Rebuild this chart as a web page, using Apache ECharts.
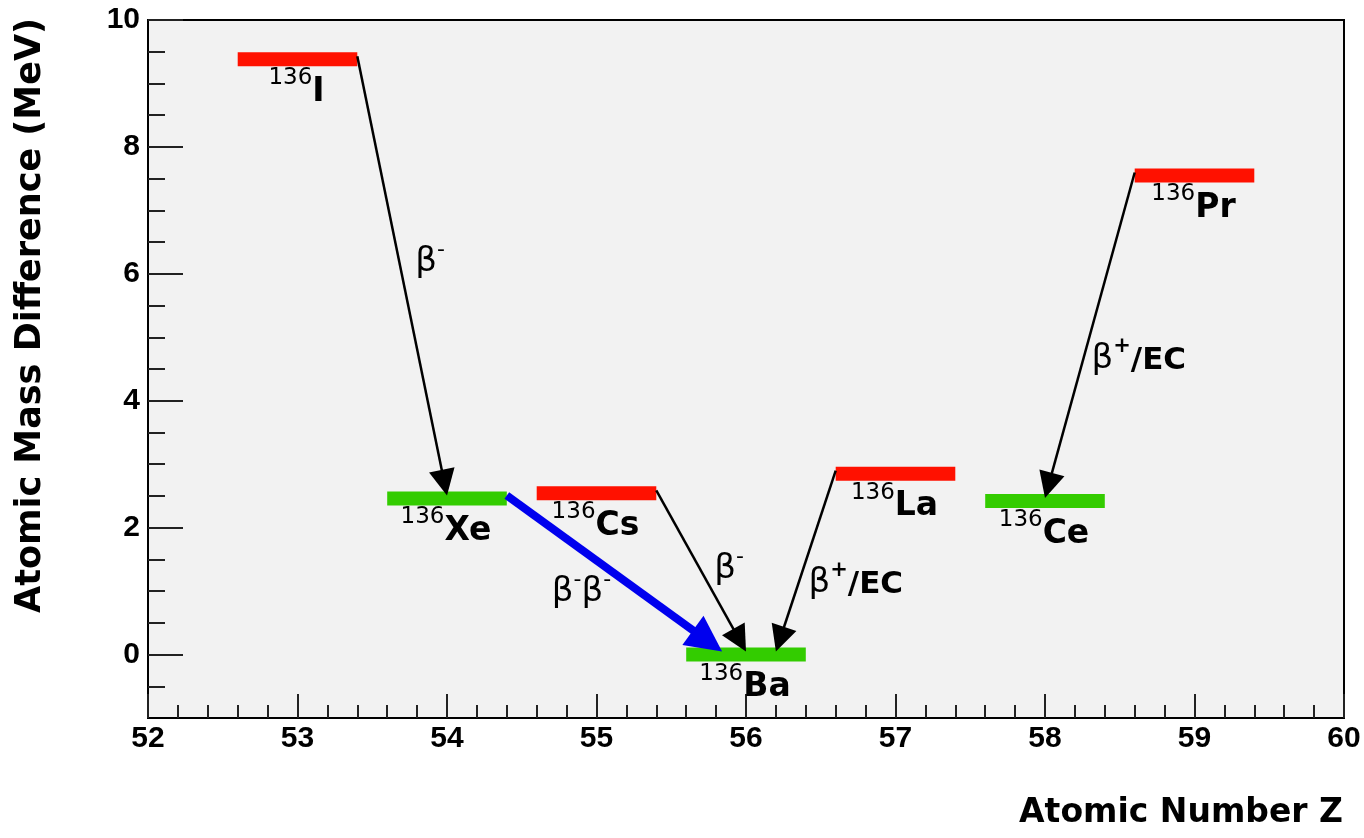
<!DOCTYPE html>
<html>
<head>
<meta charset="utf-8">
<script src="https://cdn.jsdelivr.net/npm/echarts@6/dist/echarts.min.js"></script>
<style>
html,body{margin:0;padding:0;background:#ffffff;}
#main{width:1364px;height:838px;}
</style>
</head>
<body>
<div id="main"></div>
<script>
// ---------------- DATA ----------------
const massNumber = 136;
const nuclides = ['I', 'Xe', 'Cs', 'Ba', 'La', 'Ce', 'Pr'];
const atomicNumbers = [53, 54, 55, 56, 57, 58, 59];
const massDifferences = [9.38, 2.46, 2.54, 0.0, 2.85, 2.42, 7.55]; // MeV
const nucleusKind = ['odd', 'even', 'odd', 'even', 'odd', 'even', 'odd'];

const decayFrom = ['I', 'Xe', 'Cs', 'La', 'Pr'];
const decayTo = ['Xe', 'Ba', 'Ba', 'Ba', 'Ce'];
const decayModes = ['beta-', 'doublebeta', 'beta-', 'beta+EC', 'beta+EC'];
const decayStartZ = [53.4, 54.4, 55.4, 56.6, 58.6];
const decayEndZ = [54.0, 55.84, 56.0, 56.2, 58.0];

const xTickValues = [52, 53, 54, 55, 56, 57, 58, 59, 60];
const yTickValues = [0, 2, 4, 6, 8, 10];
const yMinorTickValues = [-0.5, 0.5, 1, 1.5, 2.5, 3, 3.5, 4.5, 5, 5.5, 6.5, 7, 7.5, 8.5, 9, 9.5];

const xTitle = 'Atomic Number Z';
const yTitle = 'Atomic Mass Difference (MeV)';

// ---------------- STYLE / LAYOUT ----------------
const levelHalfWidth = 0.4;
const levelColors = { odd: '#ff1100', even: '#33cc00' };
const wideFont = '"DejaVu Sans"';
const tickFont = '"Liberation Sans", Arial, sans-serif';
const labelOffsets = [ [28, -17], [-33, 16], [28, -5], [50, 19], [49, 21] ];

const measureCtx = document.createElement('canvas').getContext('2d');
function textWidth(txt, font) { measureCtx.font = font; return measureCtx.measureText(txt).width; }

function decayLabelRich(mode) {
  if (mode === 'beta-') return '{b|β}{p|-}';
  if (mode === 'doublebeta') return '{bb|β}{pb|-}{bb|β}{pb|-}';
  return '{b|β}{q|+}{t|/EC}';
}
const richStyles = {
  b: { fontFamily: wideFont, fontSize: 34, color: '#000', lineHeight: 40, verticalAlign: 'bottom' },
  p: { fontFamily: wideFont, fontSize: 22, color: '#000', lineHeight: 22, verticalAlign: 'top' },
  q: { fontFamily: wideFont, fontSize: 21, fontWeight: 'bold', color: '#000', lineHeight: 22, verticalAlign: 'top' },
  t: { fontFamily: wideFont, fontSize: 31, fontWeight: 'bold', color: '#000', lineHeight: 40, verticalAlign: 'bottom' },
  bb: { fontFamily: wideFont, fontSize: 34, color: '#0000ee', lineHeight: 40, verticalAlign: 'bottom' },
  pb: { fontFamily: wideFont, fontSize: 22, color: '#0000ee', lineHeight: 22, verticalAlign: 'top' }
};

const idx = name => nuclides.indexOf(name);
const levelData = nuclides.map((n, i) => [atomicNumbers[i], massDifferences[i], i]);
const decayData = decayFrom.map((f, i) => [decayStartZ[i], massDifferences[idx(f)], decayEndZ[i], massDifferences[idx(decayTo[i])], i]);

function renderLevel(params, api) {
  const i = api.value(2);
  const z = api.value(0), e = api.value(1);
  const a = api.coord([z - levelHalfWidth, e]);
  const b = api.coord([z + levelHalfWidth, e]);
  const cx = (a[0] + b[0]) / 2 - 1;
  const cy = a[1];
  const supFont = '23px ' + wideFont;
  const elFont = 'bold 33px ' + wideFont;
  const supTxt = String(massNumber);
  const elTxt = nuclides[i];
  const ws = textWidth(supTxt, supFont), we = textWidth(elTxt, elFont);
  const left = cx - (ws + we) / 2;
  return {
    type: 'group',
    children: [
      { type: 'rect', shape: { x: a[0], y: cy - 7, width: b[0] - a[0], height: 14 },
        style: { fill: levelColors[nucleusKind[i]] } },
      { type: 'text', x: left, y: cy + 19,
        style: { text: supTxt, font: supFont, fill: '#000', align: 'left', verticalAlign: 'middle' } },
      { type: 'text', x: left + ws, y: cy + 33,
        style: { text: elTxt, font: elFont, fill: '#000', align: 'left', verticalAlign: 'middle' } }
    ]
  };
}

function renderDecay(params, api) {
  const i = api.value(4);
  const p0 = api.coord([api.value(0), api.value(1)]);
  const p1 = api.coord([api.value(2), api.value(3)]);
  const mode = decayModes[i];
  const isDouble = mode === 'doublebeta';
  const color = isDouble ? '#0000ee' : '#000000';
  const headLen = isDouble ? 36 : 26;
  const headHalf = isDouble ? 18 : 13;
  const lw = isDouble ? 8 : 2.5;
  const start = [p0[0], p0[1] - 3];
  const tip = [p1[0], p1[1] - 3];
  const dx = tip[0] - start[0], dy = tip[1] - start[1];
  const len = Math.sqrt(dx * dx + dy * dy);
  const ux = dx / len, uy = dy / len;
  const nx = -uy, ny = ux;
  const base = [tip[0] - ux * headLen, tip[1] - uy * headLen];
  const mid = [(start[0] + tip[0]) / 2, (start[1] + tip[1]) / 2];
  const off = labelOffsets[i];
  return {
    type: 'group',
    children: [
      { type: 'line', shape: { x1: start[0], y1: start[1], x2: base[0] + ux * 2, y2: base[1] + uy * 2 },
        style: { stroke: color, lineWidth: lw, lineCap: 'butt' } },
      { type: 'polygon', shape: { points: [tip, [base[0] + nx * headHalf, base[1] + ny * headHalf], [base[0] - nx * headHalf, base[1] - ny * headHalf]] },
        style: { fill: color } },
      { type: 'text', x: mid[0] + off[0], y: mid[1] + off[1],
        style: { text: decayLabelRich(mode), rich: richStyles, align: 'center', verticalAlign: 'middle' } }
    ]
  };
}

const chart = echarts.init(document.getElementById('main'), null, { renderer: 'canvas' });
const axisColor = '#000';
chart.setOption({
  animation: false,
  backgroundColor: '#ffffff',
  grid: { left: 148, right: 20, top: 20, bottom: 120, show: true, backgroundColor: '#f2f2f2',
          borderColor: '#000', borderWidth: 2, containLabel: false, outerBoundsMode: 'none' },
  xAxis: {
    type: 'value', min: 52, max: 60, interval: 1,
    axisLine: { show: true, onZero: false, lineStyle: { color: axisColor, width: 2 } },
    axisTick: { show: true, inside: true, length: 24, lineStyle: { color: '#222', width: 2 } },
    minorTick: { show: true, splitNumber: 5, length: 13, lineStyle: { color: '#222', width: 2 } },
    axisLabel: { color: '#000', fontFamily: tickFont, fontWeight: 'bold', fontSize: 30, margin: 6,
                 customValues: xTickValues, formatter: v => String(v) },
    splitLine: { show: false }, minorSplitLine: { show: false }
  },
  yAxis: [
    {
      type: 'value', min: -1, max: 10, position: 'left',
      axisLine: { show: true, onZero: false, lineStyle: { color: axisColor, width: 2 } },
      axisTick: { show: true, inside: true, length: 35, customValues: yTickValues, lineStyle: { color: '#222', width: 2 } },
      axisLabel: { color: '#000', fontFamily: tickFont, fontWeight: 'bold', fontSize: 30, margin: 8,
                   customValues: yTickValues, formatter: v => String(v) },
      splitLine: { show: false }
    },
    {
      type: 'value', min: -1, max: 10, position: 'left', offset: 0,
      axisLine: { show: false },
      axisTick: { show: true, inside: true, length: 17, customValues: yMinorTickValues, lineStyle: { color: '#222', width: 2 } },
      axisLabel: { show: false },
      splitLine: { show: false }
    }
  ],
  graphic: [
    { type: 'text', x: 1343, y: 813, style: { text: xTitle, font: 'bold 33px ' + wideFont, fill: '#000', align: 'right', verticalAlign: 'middle' } },
    { type: 'text', x: 31, y: 18, rotation: Math.PI / 2, style: { text: yTitle, font: 'bold 35px ' + wideFont, fill: '#000', align: 'right', verticalAlign: 'middle' } }
  ],
  series: [
    { type: 'custom', name: 'levels', coordinateSystem: 'cartesian2d', data: levelData, renderItem: renderLevel, clip: false, z: 3 },
    { type: 'custom', name: 'decays', coordinateSystem: 'cartesian2d', data: decayData, renderItem: renderDecay, clip: false, z: 4 }
  ]
});
</script>
</body>
</html>
